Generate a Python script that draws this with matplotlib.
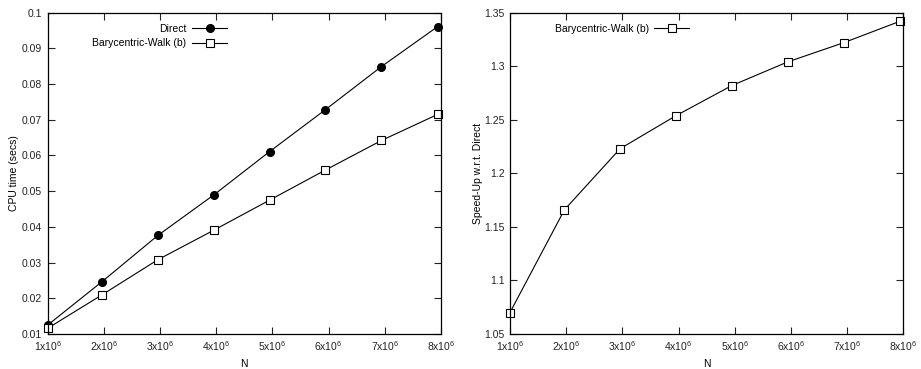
import numpy as np
import matplotlib
matplotlib.use('Agg')
from matplotlib import pyplot as plt

plt.rcParams['font.family'] = ['Liberation Sans', 'DejaVu Sans']
plt.rcParams['mathtext.fontset'] = 'custom'
plt.rcParams['mathtext.rm'] = 'Liberation Sans'
plt.rcParams['mathtext.it'] = 'Liberation Sans'

# data (N in millions)
n_vals = [1.0, 1.97, 2.96, 3.96, 4.95, 5.94, 6.94, 7.94]
direct_time = [0.0125, 0.0247, 0.0376, 0.0490, 0.0611, 0.0728, 0.0849, 0.0961]
bary_time = [0.0116, 0.0210, 0.0308, 0.0391, 0.0475, 0.0559, 0.0642, 0.0715]
speedup = [1.070, 1.166, 1.223, 1.254, 1.282, 1.304, 1.322, 1.342]

xtick_vals = [1, 2, 3, 4, 5, 6, 7, 8]
xtick_labels = [f'{k}x10$^6$' for k in xtick_vals]

fig = plt.figure(figsize=(9.21, 3.69), dpi=100)
ax1 = fig.add_axes([0.0518, 0.0949, 0.4270, 0.8707])
ax2 = fig.add_axes([0.5537, 0.0949, 0.4271, 0.8707])

x = np.array(n_vals)

ax1.plot(x, direct_time, color='black', lw=0.8, marker='o', ms=5.5,
         mfc='black', mec='black', label='Direct', clip_on=False)
ax1.plot(x, bary_time, color='black', lw=0.8, marker='s', ms=5.5,
         mfc='white', mec='black', mew=0.8, label='Barycentric-Walk (b)',
         clip_on=False)
ax1.set_ylim(0.01, 0.1)
ax1.set_yticks(np.arange(0.01, 0.1001, 0.01))
ax1.set_yticklabels(['0.01', '0.02', '0.03', '0.04', '0.05', '0.06', '0.07',
                     '0.08', '0.09', '0.1'])
ax1.set_ylabel('CPU time (secs)', fontsize=7.5)
ax1.yaxis.set_label_coords(-0.073, 0.5)

ax2.plot(x, speedup, color='black', lw=0.8, marker='s', ms=5.5,
         mfc='white', mec='black', mew=0.8, label='Barycentric-Walk (b)',
         clip_on=False)
ax2.set_ylim(1.05, 1.35)
ax2.set_yticks([1.05, 1.1, 1.15, 1.2, 1.25, 1.3, 1.35])
ax2.set_yticklabels(['1.05', '1.1', '1.15', '1.2', '1.25', '1.3', '1.35'])
ax2.set_ylabel('Speed-Up w.r.t. Direct', fontsize=7.5)
ax2.yaxis.set_label_coords(-0.068, 0.5)

for ax in (ax1, ax2):
    ax.set_xlim(1, 8)
    ax.set_xticks(xtick_vals)
    ax.set_xticklabels(xtick_labels)
    ax.set_xlabel('N', fontsize=7.5, labelpad=4)
    ax.tick_params(direction='in', length=5, width=0.8, top=True, right=True,
                   labelsize=7.5, colors='#222222', pad=4)
    for s in ax.spines.values():
        s.set_linewidth(0.9)
    leg = ax.legend(loc='upper left', bbox_to_anchor=(0.09, 0.995),
                    frameon=False, markerfirst=False, fontsize=7.5,
                    handlelength=3.4, handletextpad=0.5, labelspacing=0.45)

leg1 = ax1.get_legend()
leg1._legend_box.align = 'right'

plt.savefig('out.png', dpi=100)
